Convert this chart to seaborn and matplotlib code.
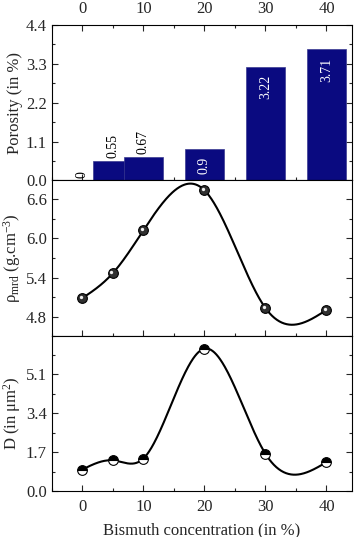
import numpy as np
import matplotlib
matplotlib.use("Agg")
import matplotlib.pyplot as plt
import matplotlib.transforms as mtrans
from matplotlib.ticker import MultipleLocator, FixedLocator, FormatStrFormatter
import seaborn as sns
import pandas as pd

# ---- data ----
conc = [0, 5, 10, 20, 30, 40]
porosity = [0.0, 0.55, 0.67, 0.9, 3.22, 3.71]
porosity_labels = ["0", "0.55", "0.67", "0.9", "3.22", "3.71"]
density = [5.09, 5.47, 6.12, 6.73, 4.94, 4.91]
grain = [0.94, 1.34, 1.42, 6.23, 1.63, 1.26]
xticks = [0, 10, 20, 30, 40]
por_ticks = [0.0, 1.1, 2.2, 3.3, 4.4]
den_ticks = [4.8, 5.4, 6.0, 6.6]
grain_ticks = [0.0, 1.7, 3.4, 5.1]


def natural_spline(x, y, n=400):
    x = np.asarray(x, float)
    y = np.asarray(y, float)
    k = len(x)
    h = np.diff(x)
    A = np.zeros((k, k))
    b = np.zeros(k)
    A[0, 0] = 1
    A[-1, -1] = 1
    for i in range(1, k - 1):
        A[i, i - 1] = h[i - 1]
        A[i, i] = 2 * (h[i - 1] + h[i])
        A[i, i + 1] = h[i]
        b[i] = 6 * ((y[i + 1] - y[i]) / h[i] - (y[i] - y[i - 1]) / h[i - 1])
    M = np.linalg.solve(A, b)
    t = np.linspace(x[0], x[-1], n)
    idx = np.clip(np.searchsorted(x, t) - 1, 0, k - 2)
    x0, x1 = x[idx], x[idx + 1]
    hh = x1 - x0
    s = (M[idx] * (x1 - t) ** 3 / (6 * hh) + M[idx + 1] * (t - x0) ** 3 / (6 * hh)
         + (y[idx] / hh - M[idx] * hh / 6) * (x1 - t)
         + (y[idx + 1] / hh - M[idx + 1] * hh / 6) * (t - x0))
    return t, s


sns.set_style("ticks")
plt.rcParams["font.family"] = ["Liberation Serif", "DejaVu Serif"]
plt.rcParams["mathtext.fontset"] = "custom"
plt.rcParams["mathtext.rm"] = "Liberation Serif"
plt.rcParams["mathtext.it"] = "Liberation Serif:italic"
plt.rcParams["axes.linewidth"] = 0.8

FS = 12

fig, axes = plt.subplots(3, 1, figsize=(3.6, 5.37), dpi=100, sharex=True)
fig.subplots_adjust(left=0.144, right=0.978, top=0.9534, bottom=0.0857, hspace=0)
ax1, ax2, ax3 = axes

# ---- panel 1: porosity bars ----
df = pd.DataFrame({"conc": conc, "porosity": porosity})
sns.barplot(data=df, x="conc", y="porosity", native_scale=True, orient="x",
            width=1.28, color="#0a0a80", edgecolor="#3a3a90", linewidth=0.5,
            saturation=1, ax=ax1)
for xv, yv, lab in zip(conc, porosity, porosity_labels):
    if yv < 0.8:
        ax1.annotate(lab, (xv, yv), xytext=(0, 2), textcoords="offset points",
                     rotation=90, ha="center", va="bottom", fontsize=10, color="black")
    else:
        ax1.annotate(lab, (xv, yv), xytext=(0, -6), textcoords="offset points",
                     rotation=90, ha="center", va="top", fontsize=10, color="white")
ax1.set_ylim(0, 4.4)
ax1.yaxis.set_major_locator(FixedLocator(por_ticks))
ax1.set_ylabel("Porosity (in %)", fontsize=FS, labelpad=2)

# ---- panel 2: density ----
t, s = natural_spline(conc, density)
sns.lineplot(x=t, y=s, color="black", lw=1.5, ax=ax2)
ax2.plot(conc, density, "o", ms=7, mfc="#303030", mec="black", mew=0.8, zorder=3)
off = mtrans.ScaledTranslation(-1.0 / 72, 1.0 / 72, fig.dpi_scale_trans)
ax2.plot(conc, density, "o", ms=2.4, mfc="#f0f0f0", mec="none", zorder=4,
         transform=ax2.transData + off)
ax2.set_ylim(4.52, 6.88)
ax2.yaxis.set_major_locator(FixedLocator(den_ticks))
ax2.set_ylabel(r"ρ$_{\mathrm{mrd}}$ (g.cm$^{-3}$)", fontsize=FS, labelpad=2)

# ---- panel 3: grain size ----
t, s = natural_spline(conc, grain)
sns.lineplot(x=t, y=s, color="black", lw=1.5, ax=ax3)
ax3.plot(conc, grain, "o", ms=7, fillstyle="top", mfc="black", mfcalt="white",
         mec="black", mew=0.8, zorder=3)
ax3.set_ylim(0, 6.8)
ax3.yaxis.set_major_locator(FixedLocator(grain_ticks))
ax3.set_ylabel(r"D (in μm$^{2}$)", fontsize=FS, labelpad=2)
ax3.set_xlabel("Bismuth concentration (in %)", fontsize=FS, labelpad=5)

for ax, minor in zip(axes, [0.55, 0.3, 0.85]):
    ax.set_xlim(-5, 44.2)
    ax.xaxis.set_major_locator(FixedLocator(xticks))
    ax.xaxis.set_minor_locator(MultipleLocator(5))
    ax.yaxis.set_minor_locator(MultipleLocator(minor))
    ax.yaxis.set_major_formatter(FormatStrFormatter("%.1f"))
    ax.tick_params(which="both", direction="in", left=True, right=True,
                   bottom=True, top=False, labelsize=FS, width=0.8)
    ax.tick_params(which="major", length=4)
    ax.tick_params(which="minor", length=2.5)
    ax.tick_params(axis="x", which="major", pad=6)
    for sp in ax.spines.values():
        sp.set_visible(True)
        sp.set_color("black")

ax1.tick_params(which="both", top=True, labeltop=True, labelbottom=False)
ax1.set_xlabel("")
ax2.set_xlabel("")
fig.align_ylabels(axes)
fig.savefig("out.png", dpi=100)
